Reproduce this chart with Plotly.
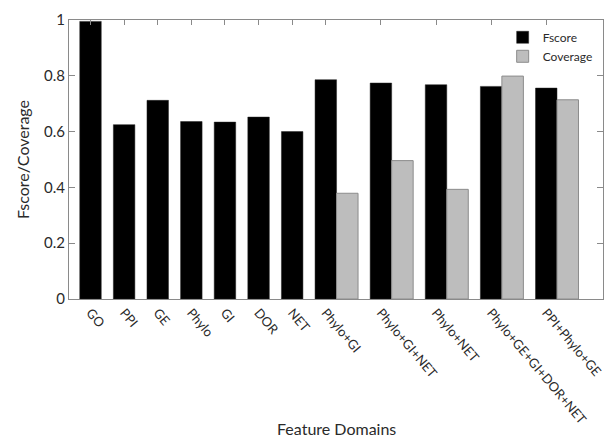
import plotly.graph_objects as go

categories = ["GO", "PPI", "GE", "Phylo", "GI", "DOR", "NET", "Phylo+GI",
              "Phylo+GI+NET", "Phylo+NET", "Phylo+GE+GI+DOR+NET", "PPI+Phylo+GE"]
fscore = [0.995, 0.625, 0.712, 0.636, 0.634, 0.652, 0.600, 0.786,
          0.774, 0.768, 0.762, 0.756]
coverage = [None, None, None, None, None, None, None, 0.379,
            0.496, 0.393, 0.799, 0.714]
y_ticks = [0, 0.2, 0.4, 0.6, 0.8, 1]
y_tick_labels = ["0", "0.2", "0.4", "0.6", "0.8", "1"]

FONT = "Lato"
TXT = "#2a2a2a"
FRAME = "#8a8a8a"

# layout of bar slots (bar width = 1 unit, constant gap between slots)
gap = 0.5636
pos = 1.0
f_x, c_x, c_y = [], [], []
for i, cat in enumerate(categories):
    f_x.append(pos)
    if coverage[i] is not None:
        c_x.append(pos + 1)
        c_y.append(coverage[i])
        pos += 2 + gap
    else:
        pos += 1 + gap
x_max = pos - gap + 0.64

fig = go.Figure()
fig.add_trace(go.Bar(x=f_x, y=fscore, width=1, name="Fscore",
                     marker=dict(color="#000000", line=dict(color="#222222", width=0.5))))
fig.add_trace(go.Bar(x=c_x, y=c_y, width=1, name="Coverage",
                     marker=dict(color="#bdbdbd", line=dict(color="#8c8c8c", width=1))))
# invisible trace to carry the top (mirrored) tick axis
fig.add_trace(go.Scatter(x=f_x, y=[0] * len(f_x), xaxis="x2", mode="markers",
                         marker=dict(opacity=0), showlegend=False, hoverinfo="skip"))

fig.update_layout(
    width=610, height=438,
    margin=dict(l=69, r=7, t=20, b=139, autoexpand=False),
    paper_bgcolor="white", plot_bgcolor="white",
    barmode="overlay",
    font=dict(family=FONT, color=TXT),
    showlegend=True,
    legend=dict(x=0.99, y=0.99, xanchor="right", yanchor="top",
                bgcolor="rgba(0,0,0,0)", font=dict(size=12, family=FONT, color=TXT),
                traceorder="normal", tracegroupgap=0, itemwidth=30),
    xaxis=dict(range=[0, x_max], tickvals=f_x, ticktext=categories,
               tickangle=50, ticks="", showgrid=False, zeroline=False,
               showline=True, linecolor=FRAME, linewidth=1, mirror=True,
               automargin=False,
               tickfont=dict(size=13, family=FONT, color=TXT)),
    xaxis2=dict(range=[0, x_max], overlaying="x", side="top", tickvals=f_x,
                showticklabels=False, ticks="inside", ticklen=5, tickcolor=FRAME,
                showgrid=False, zeroline=False, showline=False, automargin=False),
    yaxis=dict(range=[0, 1], tickvals=y_ticks, ticktext=y_tick_labels,
               ticks="inside", ticklen=6, tickcolor=FRAME, showgrid=False,
               zeroline=False, showline=True, linecolor=FRAME, linewidth=1,
               mirror="ticks", automargin=False,
               tickfont=dict(size=15, family=FONT, color=TXT),
               title=dict(text="Fscore/Coverage", font=dict(size=16, family=FONT, color=TXT),
                          standoff=10)),
)
fig.add_annotation(text="Feature Domains", xref="paper", yref="paper",
                   x=0.5, y=-(428 - 299) / 279, xanchor="center", yanchor="middle",
                   showarrow=False, font=dict(size=16, family=FONT, color=TXT))

fig.write_html("out.html", config={"displayModeBar": False},
               post_script="document.body.style.margin='0';document.body.style.overflow='hidden';")
